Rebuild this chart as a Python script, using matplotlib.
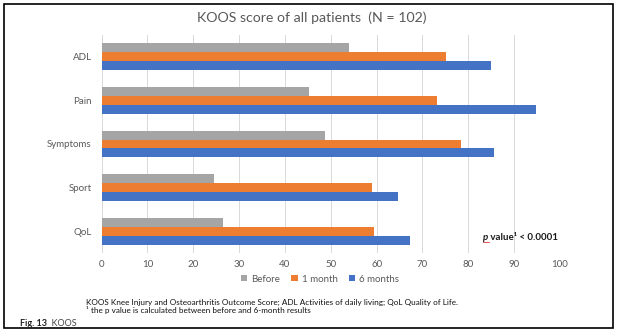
import matplotlib
matplotlib.use("Agg")
import matplotlib.pyplot as plt
from matplotlib.patches import Rectangle
import numpy as np

categories = ["ADL", "Pain", "Symptoms", "Sport", "QoL"]
before = [53.9, 45.2, 48.7, 24.5, 26.6]
one_month = [75.2, 73.1, 78.5, 58.9, 59.5]
six_months = [84.9, 94.7, 85.5, 64.7, 67.3]
series_names = ["Before", "1 month", "6 months"]
colors = ["#A5A5A5", "#ED7D31", "#4472C4"]
xticks = list(range(0, 101, 10))

plt.rcParams['font.family'] = ['Lato', 'DejaVu Sans']
W, H = 619, 333
fig = plt.figure(figsize=(W / 100, H / 100), dpi=100)
ax = fig.add_axes([101.5 / W, 1 - 253 / H, (560 - 101.5) / W, (253 - 35) / H])

y = np.arange(len(categories))
h = 0.205
for i, (vals, c, name) in enumerate(zip([before, one_month, six_months], colors, series_names)):
    ax.barh(y + (i - 1) * h, vals, height=h, color=c, label=name, zorder=3)

ax.set_xlim(0, 100)
ax.set_ylim(len(categories) - 0.5, -0.5)
ax.set_xticks(xticks)
ax.set_yticks(y)
ax.set_yticklabels(categories)
ax.tick_params(axis='both', length=0, labelsize=7, colors='#595959', pad=7)
ax.tick_params(axis='x', pad=5)
ax.grid(axis='x', color='#D9D9D9', linewidth=0.7, zorder=0)
for s in ax.spines.values():
    s.set_visible(False)

fig.text(312 / W, 1 - 18 / H, "KOOS score of all patients  (N = 102)", ha='center', va='center',
         fontsize=10.2, color='#595959')

leg = ax.legend(loc='center', bbox_to_anchor=(320 / W, 1 - 279 / H), bbox_transform=fig.transFigure,
                ncol=3, frameon=False, fontsize=7, handlelength=0.65, handleheight=0.65,
                handletextpad=0.4, columnspacing=1.2, labelcolor='#595959')

# p value annotation
tp = fig.text(483 / W, 1 - 237 / H, "p", fontsize=7, style='italic', fontweight='bold',
              color='#1a1a1a', va='center', ha='left')
ax.annotate(" value\u00b9 < 0.0001", xy=(1, 0.5), xycoords=tp, va='center', ha='left',
            fontsize=7, fontweight='bold', color='#1a1a1a', annotation_clip=False)
fig.add_artist(plt.Line2D([483 / W, 489 / W], [1 - 242 / H, 1 - 242 / H], color='#E04040',
                          linewidth=0.6, transform=fig.transFigure))

fig.text(86 / W, 1 - 302 / H,
         "KOOS Knee Injury and Osteoarthritis Outcome Score; ADL Activities of daily living; QoL Quality of Life.",
         fontsize=5.9, color='#111111', va='center', ha='left')
fig.text(86 / W, 1 - 310.5 / H, "\u00b9 the p value is calculated between before and 6-month results",
         fontsize=5.9, color='#111111', va='center', ha='left')
f1 = fig.text(20 / W, 1 - 324 / H, "Fig. 13", fontsize=6.5, fontweight='bold', color='#222222',
              va='center', ha='left')
ax.annotate("  KOOS", xy=(1, 0.5), xycoords=f1, va='center', ha='left', fontsize=6.5, color='#444444',
            annotation_clip=False)

fig.add_artist(Rectangle((4 / W, 1 - 328 / H), (613 - 4) / W, (328 - 4) / H, transform=fig.transFigure,
                         fill=False, edgecolor='black', linewidth=1.2))

fig.savefig("out.png", dpi=100)
